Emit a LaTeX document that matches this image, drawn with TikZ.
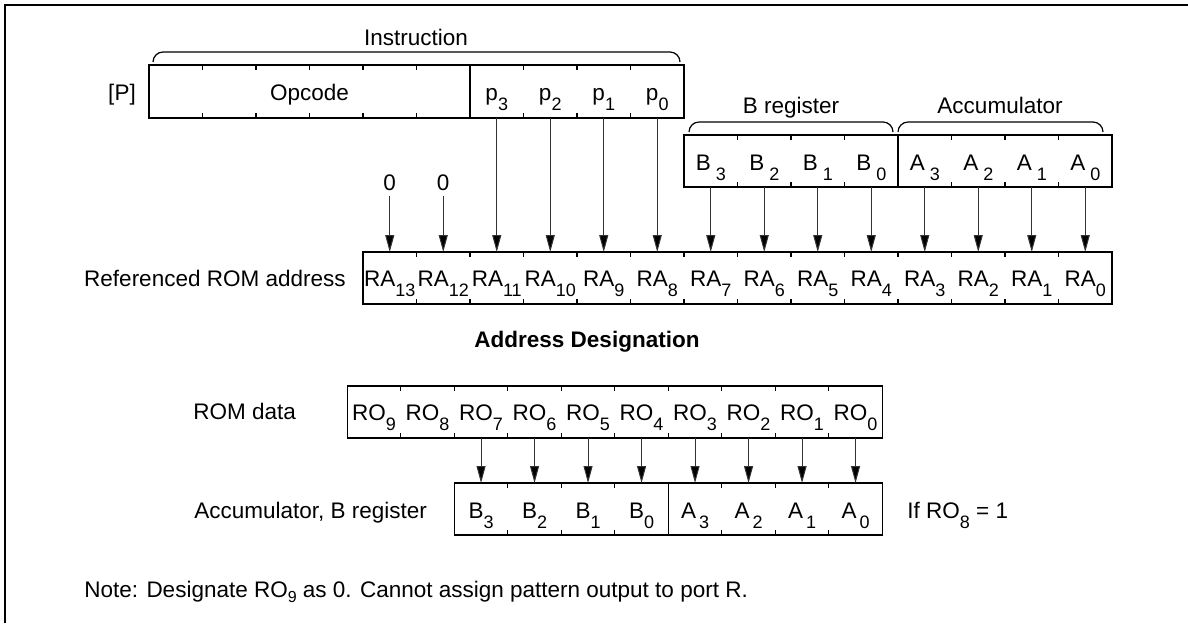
\documentclass[tikz,border=0pt]{standalone}
\usepackage{fontspec}
\setmainfont{Liberation Sans}
\usetikzlibrary{arrows.meta}
\newcommand{\subx}[1]{\raisebox{-5pt}{\fontsize{9}{9}\selectfont #1}}
\newcommand{\subg}[1]{\hspace{2.5pt}\subx{#1}}
\begin{document}
\begin{tikzpicture}[x=0.5pt,y=-0.5pt,
  every node/.style={inner sep=0pt, font=\fontsize{11.25}{13}\selectfont},
  box/.style={line width=0.75pt},
  tickmark/.style={line width=0.6pt},
  conn/.style={line width=0.5pt, draw=black!80, -{Triangle[length=8.5pt,width=4.5pt,fill=black]}},
  brace/.style={line width=0.6pt, rounded corners=5pt}]
\useasboundingbox (0,0) rectangle (1188,623);
\draw[line width=1pt] (5,623) -- (5,5) -- (1188,5);

% ---------- Instruction ----------
\node[anchor=base] (instr) at (416,45) {Instruction};
\draw[brace] (153,62) -- (153,52) -- (680,52) -- (680,62);
\node[anchor=base] (P) at (122,100) {[P]};
\draw[box] (149,65) rectangle (684,118);
\draw[box] (470,65) -- (470,118);
\foreach \k in {1,2,3,4,5,7,8,9} {
  \pgfmathsetmacro\xx{149+53.5*\k}
  \draw[tickmark] (\xx,65) -- (\xx,70) (\xx,118) -- (\xx,113);
}
\node[anchor=base] (opc) at (309.5,100) {Opcode};
\foreach \k in {6,7,8,9} {
  \pgfmathsetmacro\xx{149+53.5*\k+26.75}
  \pgfmathtruncatemacro\i{9-\k}
  \node[anchor=base] (p\i) at (\xx,100) {p\subx{\i}};
  \coordinate (pb\i) at (\xx,118);
}

% ---------- B register / Accumulator ----------
\node[anchor=base] (breg) at (791,113) {B register};
\node[anchor=base] (acc) at (1000,113) {Accumulator};
\draw[brace] (689,132) -- (689,122) -- (893,122) -- (893,132);
\draw[brace] (898,132) -- (898,122) -- (1103,122) -- (1103,132);
\draw[box] (684,135) rectangle (1112,187);
\draw[box] (898,135) -- (898,187);
\foreach \k in {11,12,13,15,16,17} {
  \pgfmathsetmacro\xx{149+53.5*\k}
  \draw[tickmark] (\xx,135) -- (\xx,140) (\xx,187) -- (\xx,182);
}
\foreach \k in {10,11,12,13} {
  \pgfmathsetmacro\xx{149+53.5*\k+26.75}
  \pgfmathtruncatemacro\i{13-\k}
  \node[anchor=base] (b\i) at (\xx,170) {B\subg{\i}};
  \coordinate (bb\i) at (\xx,187);
}
\foreach \k in {14,15,16,17} {
  \pgfmathsetmacro\xx{149+53.5*\k+26.75}
  \pgfmathtruncatemacro\i{17-\k}
  \node[anchor=base] (a\i) at (\xx,170) {A\subg{\i}};
  \coordinate (ab\i) at (\xx,187);
}

% ---------- Referenced ROM address ----------
\node[anchor=base east] (refl) at (346,286) {Referenced ROM address};
\draw[box] (363,252) rectangle (1112,304);
\foreach \k in {5,...,17} {
  \pgfmathsetmacro\xx{149+53.5*\k}
  \draw[tickmark] (\xx,252) -- (\xx,257) (\xx,304) -- (\xx,299);
}
\foreach \k in {4,...,17} {
  \pgfmathsetmacro\xx{149+53.5*\k+26.75}
  \pgfmathtruncatemacro\i{17-\k}
  \node[anchor=base] (ra\i) at (\xx,286) {RA\subx{\i}};
  \coordinate (rat\i) at (\xx,252);
}
\node[anchor=base] (z13) at (389.75,190) {0};
\node[anchor=base] (z12) at (443.25,190) {0};
\coordinate (z13b) at (389.75,196);
\coordinate (z12b) at (443.25,196);
\draw[conn] (z13b) -- (rat13);
\draw[conn] (z12b) -- (rat12);
\foreach \i in {0,1,2,3} {
  \pgfmathtruncatemacro\j{8+\i}
  \draw[conn] (pb\i) -- (rat\j);
  \pgfmathtruncatemacro\m{4+\i}
  \draw[conn] (bb\i) -- (rat\m);
  \draw[conn] (ab\i) -- (rat\i);
}

\node[anchor=base, font=\bfseries\fontsize{11.25}{13}\selectfont] (adr) at (587,347) {Address Designation};

% ---------- ROM data ----------
\node[anchor=base west] (romd) at (193,419) {ROM data};
\draw[box] (347.3,386) rectangle (882.3,438);
\foreach \k in {1,...,9} {
  \pgfmathsetmacro\xx{347.3+53.5*\k}
  \draw[tickmark] (\xx,386) -- (\xx,391) (\xx,438) -- (\xx,433);
}
\foreach \k in {0,...,9} {
  \pgfmathsetmacro\xx{347.3+53.5*\k+26.75}
  \pgfmathtruncatemacro\i{9-\k}
  \node[anchor=base] (ro\i) at (\xx,420) {RO\subx{\i}};
  \coordinate (rob\i) at (\xx,438);
}

% ---------- Accumulator, B register ----------
\node[anchor=base west] (accb) at (194,518) {Accumulator, B register};
\draw[box] (454.3,483) rectangle (882.3,535);
\draw[box] (668.3,483) -- (668.3,535);
\foreach \k in {3,4,5,7,8,9} {
  \pgfmathsetmacro\xx{347.3+53.5*\k}
  \draw[tickmark] (\xx,483) -- (\xx,488) (\xx,535) -- (\xx,530);
}
\foreach \k in {2,3,4,5} {
  \pgfmathsetmacro\xx{347.3+53.5*\k+26.75}
  \pgfmathtruncatemacro\i{5-\k}
  \node[anchor=base] (lb\i) at (\xx,518) {B\subx{\i}};
  \coordinate (lbt\i) at (\xx,483);
}
\foreach \k in {6,7,8,9} {
  \pgfmathsetmacro\xx{347.3+53.5*\k+26.75}
  \pgfmathtruncatemacro\i{9-\k}
  \node[anchor=base] (la\i) at (\xx,518) {A\hspace{1.5pt}\subx{\i}};
  \coordinate (lat\i) at (\xx,483);
}
\foreach \i in {0,1,2,3} {
  \pgfmathtruncatemacro\j{4+\i}
  \draw[conn] (rob\j) -- (lbt\i);
  \draw[conn] (rob\i) -- (lat\i);
}
\node[anchor=base west] (ifro) at (907,518) {If RO\subx{8} = 1};

\node[anchor=base west] (note) at (84,597) {Note: Designate RO\raisebox{-2.5pt}{\fontsize{8}{8}\selectfont 9} as 0. Cannot assign pattern output to port R.};
\end{tikzpicture}
\end{document}
